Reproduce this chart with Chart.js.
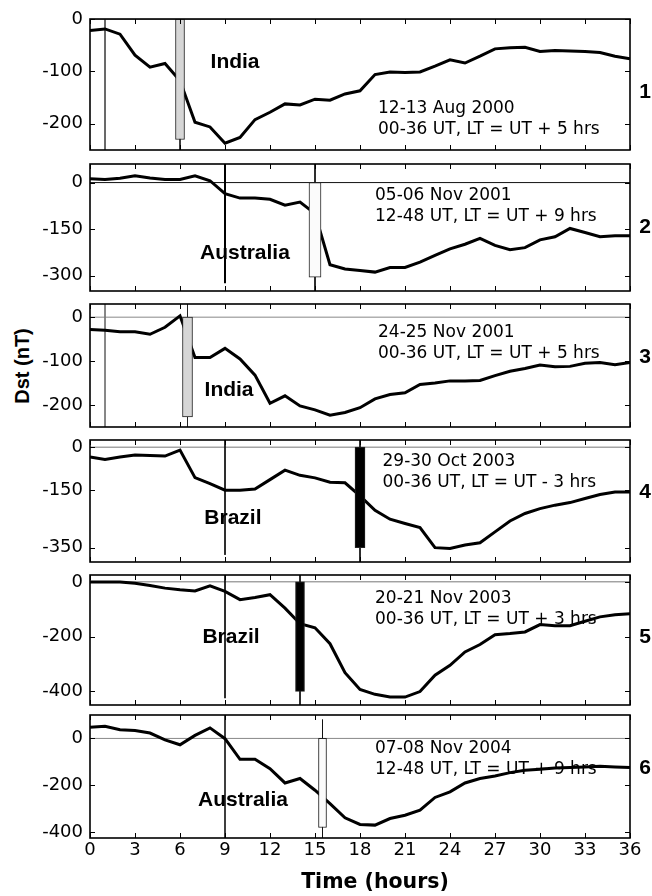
<!DOCTYPE html>
<html>
<head>
<meta charset="utf-8">
<script src="https://cdn.jsdelivr.net/npm/chart.js@4.4.1/dist/chart.umd.min.js"></script>
<style>
  html, body { margin: 0; padding: 0; background: #fff; }
  #wrap { position: relative; width: 652px; height: 896px; overflow: hidden; background: #fff; }
  #wrap canvas { position: absolute; left: 0; }
  #ylab {
    position: absolute; left: 22px; top: 366px;
    transform: translate(-50%, -50%) rotate(-90deg);
    font: bold 20px "Liberation Sans", Arial, sans-serif; color: #000; white-space: nowrap;
  }
</style>
</head>
<body>
<div id="wrap"><div id="ylab">Dst (nT)</div></div>
<script>
// Hourly Dst index (nT) for six storm intervals, 0-36 h
const hours = [0,1,2,3,4,5,6,7,8,9,10,11,12,13,14,15,16,17,18,19,20,21,22,23,24,25,26,27,28,29,30,31,32,33,34,35,36];

const dstAug2000 = [-22,-19,-29,-69,-92,-85,-118,-197,-206,-237,-226,-192,-178,-162,-164,-153,-155,-143,-137,-106,-101,-102,-101,-90,-78,-84,-71,-57,-55,-54,-62,-60,-61,-62,-64,-71,-76];
const dstNov2001a = [12,10,14,22,15,10,10,22,6,-36,-50,-50,-54,-73,-63,-100,-265,-279,-284,-289,-274,-274,-257,-235,-214,-199,-180,-203,-217,-210,-185,-175,-148,-161,-175,-172,-172];
const dstNov2001b = [-28,-30,-33,-33,-39,-23,3,-92,-92,-71,-95,-132,-196,-179,-202,-211,-223,-217,-206,-186,-176,-172,-153,-150,-145,-145,-144,-133,-123,-117,-109,-113,-112,-105,-103,-108,-103];
const dstOct2003 = [-34,-43,-34,-27,-29,-31,-10,-106,-127,-150,-150,-146,-113,-80,-98,-107,-122,-124,-170,-220,-251,-266,-280,-350,-353,-341,-333,-295,-257,-231,-214,-202,-193,-179,-165,-156,-156];
const dstNov2003 = [-1,-1,-1,-5,-13,-23,-29,-33,-15,-35,-65,-57,-47,-96,-153,-168,-226,-332,-393,-411,-421,-421,-401,-341,-305,-256,-229,-193,-189,-183,-156,-160,-160,-144,-128,-120,-117];
const dstNov2004 = [48,52,37,34,23,-6,-27,13,45,-1,-89,-89,-129,-190,-171,-221,-278,-339,-367,-370,-342,-328,-306,-252,-228,-190,-171,-160,-146,-136,-132,-126,-124,-122,-119,-122,-124];

const dstSeries = [dstAug2000, dstNov2001a, dstNov2001b, dstOct2003, dstNov2003, dstNov2004];

// Station region, event dates and time conventions
const regionNames = ['India', 'Australia', 'India', 'Brazil', 'Brazil', 'Australia'];
const eventDates = ['12-13 Aug 2000', '05-06 Nov 2001', '24-25 Nov 2001', '29-30 Oct 2003', '20-21 Nov 2003', '07-08 Nov 2004'];
const eventTimes = ['00-36 UT, LT = UT + 5 hrs', '12-48 UT, LT = UT + 9 hrs', '00-36 UT, LT = UT + 5 hrs',
                    '00-36 UT, LT = UT - 3 hrs', '00-36 UT, LT = UT + 3 hrs', '12-48 UT, LT = UT + 9 hrs'];
const panelNumbers = ['1', '2', '3', '4', '5', '6'];
const xTitle = 'Time (hours)';

// Axis limits and tick labels
const yMin = [-250, -350, -250, -400, -450, -425];
const yMax = [0, 60, 30, 25, 25, 100];
const yTickValues = [[0, -100, -200], [0, -150, -300], [0, -100, -200], [0, -150, -350], [0, -200, -400], [0, -200, -400]];
const xTickValues = [0, 3, 6, 9, 12, 15, 18, 21, 24, 27, 30, 33, 36];

// Event bars (hour, depth in nT) and vertical marker hours
const barHour = [6, 15, 6.5, 18, 14, 15.5];
const barDepth = [-230, -305, -227, -350, -400, -380];
const markerHours = [[1, 6], [9, 15], [1, 6.5], [9, 18], [9, 14], [9, 15.5]];
const markerLow = [[-250, -250], [-325, -350], [-250, -250], [-375, -400], [-425, -450], [-425, -425]];
const markerHigh = [[0, 0], [60, 60], [30, 30], [25, 25], [25, 25], [100, 80]];

// Styling
const SANS = '"Liberation Sans", Arial, sans-serif';
const WIDE = '"DejaVu Sans", Verdana, sans-serif';
const panelTop = [19, 164, 304, 440, 575, 715];
const panelBottom = [150, 291, 427, 562, 705, 838];
const barFill = ['#d6d6d6', '#fbfbfb', '#d6d6d6', '#000000', '#000000', '#fbfbfb'];
const barPx = [9, 12, 10, 10, 9, 8];
const markerStyle = [
  [{c: '#555', w: 1}, {c: '#222', w: 1}],
  [{c: '#000', w: 2}, {c: '#111', w: 1}],
  [{c: '#777', w: 1}, {c: '#222', w: 1}],
  [{c: '#111', w: 1}, {c: '#111', w: 1}],
  [{c: '#111', w: 1}, {c: '#111', w: 1}],
  [{c: '#000', w: 1.5}, {c: '#111', w: 1}]
];
const zeroLineColor = ['#333', '#111', '#888', '#777', '#777', '#888'];

// Text anchor positions in data units (hour, nT)
const regionAt = [[9.67, -83], [10.33, -229], [9.27, -166], [9.53, -247], [9.4, -203], [10.2, -262]];
const noteAt = [[19.2, -170], [19.0, -42], [19.2, -36], [19.5, -51], [19.0, -60], [19.0, -44]];
const numberAt = [-140, -144, -91, -157, -204, -128];

// Inward tick marks and the box round each panel
const framePlugin = {
  id: 'frame',
  afterDatasetsDraw(chart, args, opts) {
    const {ctx, chartArea: a, scales: {x, y}} = chart;
    const i = opts.idx;
    ctx.save();
    ctx.strokeStyle = '#000';
    ctx.lineWidth = 1;
    ctx.beginPath();
    for (const t of xTickValues) {
      const px = Math.round(x.getPixelForValue(t)) + 0.5;
      ctx.moveTo(px, a.top); ctx.lineTo(px, a.top + 5);
      ctx.moveTo(px, a.bottom); ctx.lineTo(px, a.bottom - 5);
    }
    for (const t of yTickValues[i]) {
      const py = Math.round(y.getPixelForValue(t)) + 0.5;
      ctx.moveTo(a.left, py); ctx.lineTo(a.left + 5, py);
      ctx.moveTo(a.right, py); ctx.lineTo(a.right - 5, py);
    }
    ctx.stroke();
    ctx.lineWidth = 1.6;
    ctx.strokeRect(a.left, a.top, a.right - a.left, a.bottom - a.top);
    ctx.restore();
  }
};

// Region name, event date/time note, panel number and time-axis title
const textPlugin = {
  id: 'notes',
  afterDraw(chart, args, opts) {
    const {ctx, chartArea: a, scales: {x, y}} = chart;
    const i = opts.idx;
    ctx.save();
    ctx.fillStyle = '#000';
    ctx.textBaseline = 'middle';
    ctx.textAlign = 'center';
    ctx.font = 'bold 21px ' + SANS;
    ctx.fillText(regionNames[i], x.getPixelForValue(regionAt[i][0]), y.getPixelForValue(regionAt[i][1]));
    ctx.textAlign = 'left';
    ctx.font = '17px ' + WIDE;
    const nx = x.getPixelForValue(noteAt[i][0]);
    const ny = y.getPixelForValue(noteAt[i][1]);
    ctx.fillText(eventDates[i], nx, ny);
    ctx.fillText(eventTimes[i], nx, ny + 21);
    ctx.textAlign = 'center';
    ctx.font = 'bold 21px ' + SANS;
    ctx.fillText(panelNumbers[i], a.right + 15, y.getPixelForValue(numberAt[i]));
    if (opts.last) {
      ctx.font = 'bold 20.5px ' + WIDE;
      ctx.fillText(xTitle, x.getPixelForValue(19), a.bottom + 45);
    }
    ctx.restore();
  }
};

const wrap = document.getElementById('wrap');
const PAD = 22;

for (let i = 0; i < 6; i++) {
  const last = i === 5;
  const top = panelTop[i] - PAD;
  const h = last ? 896 - top : panelBottom[i] - panelTop[i] + 2 * PAD;
  const canvas = document.createElement('canvas');
  canvas.width = 652;
  canvas.height = h;
  canvas.style.top = top + 'px';
  wrap.appendChild(canvas);

  const datasets = [];
  datasets.push({
    type: 'bar',
    data: [{x: barHour[i], y: [0, barDepth[i]]}],
    backgroundColor: barFill[i],
    borderColor: '#222',
    borderWidth: 1,
    borderSkipped: false,
    barThickness: barPx[i],
    order: 0
  });
  datasets.push({
    type: 'line',
    data: hours.map((hr, k) => ({x: hr, y: dstSeries[i][k]})),
    borderColor: '#000',
    borderWidth: 3,
    pointRadius: 0,
    tension: 0,
    order: 1
  });
  markerHours[i].forEach((m, k) => {
    datasets.push({
      type: 'line',
      data: [{x: m, y: markerHigh[i][k]}, {x: m, y: markerLow[i][k]}],
      borderColor: markerStyle[i][k].c,
      borderWidth: markerStyle[i][k].w,
      pointRadius: 0,
      order: 2
    });
  });
  datasets.push({
    type: 'line',
    data: [{x: 0, y: 0}, {x: 36, y: 0}],
    borderColor: zeroLineColor[i],
    borderWidth: 1,
    pointRadius: 0,
    order: 3
  });

  new Chart(canvas, {
    type: 'line',
    data: {datasets},
    options: {
      responsive: false,
      animation: false,
      events: [],
      layout: {padding: {top: PAD, bottom: last ? 0 : PAD, left: 0, right: 22}},
      plugins: {
        legend: {display: false},
        tooltip: {enabled: false},
        frame: {idx: i},
        notes: {idx: i, last: last}
      },
      scales: {
        x: {
          type: 'linear',
          min: 0, max: 36,
          offset: false,
          display: last,
          afterFit: (s) => { if (last) s.height = 58; s.paddingLeft = 0; s.paddingRight = 0; },
          afterBuildTicks: (s) => { s.ticks = xTickValues.map(v => ({value: v})); },
          grid: {display: false, drawTicks: false},
          border: {display: false},
          ticks: {color: '#000', font: {family: WIDE, size: 18}, padding: 2, maxRotation: 0, autoSkip: false}
        },
        y: {
          type: 'linear',
          min: yMin[i], max: yMax[i],
          afterFit: (s) => { s.width = 90; s.paddingTop = 0; s.paddingBottom = 0; },
          afterBuildTicks: (s) => { s.ticks = yTickValues[i].map(v => ({value: v})); },
          grid: {display: false, drawTicks: false},
          border: {display: false},
          ticks: {color: '#000', font: {family: WIDE, size: 18}, padding: 7, autoSkip: false}
        }
      }
    },
    plugins: [framePlugin, textPlugin]
  });
}
</script>
</body>
</html>
